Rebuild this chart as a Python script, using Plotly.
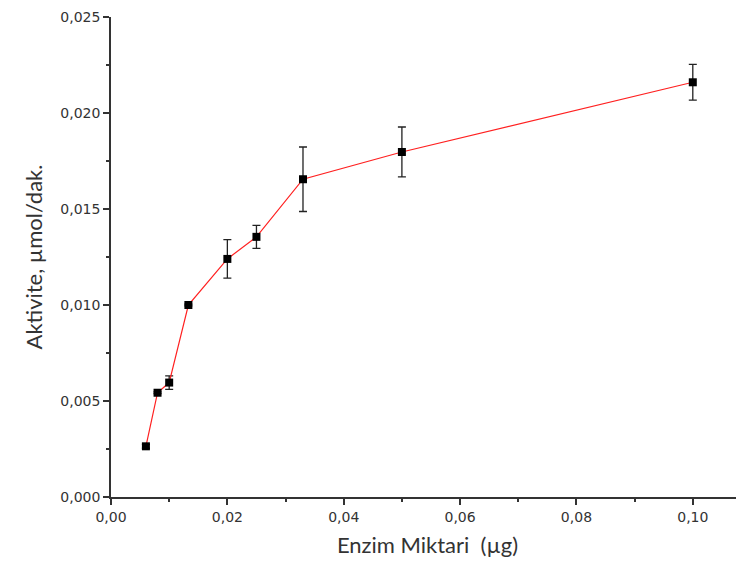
import plotly.graph_objects as go

enzim = [0.006, 0.008, 0.010, 0.0133, 0.020, 0.025, 0.033, 0.050, 0.100]
aktivite = [0.00264, 0.00543, 0.00596, 0.01000, 0.01240, 0.01355, 0.01655, 0.01797, 0.02160]
hata = [0.00010, 0.00005, 0.00035, 0.00005, 0.00100, 0.00060, 0.00168, 0.00130, 0.00093]

x_ticks = [0.00, 0.02, 0.04, 0.06, 0.08, 0.10]
y_ticks = [0.000, 0.005, 0.010, 0.015, 0.020, 0.025]

fig = go.Figure()
fig.add_trace(go.Scatter(
    x=enzim, y=aktivite, mode="lines+markers",
    line=dict(color="#ff2020", width=1.2),
    marker=dict(symbol="square", size=8, color="black"),
    error_y=dict(type="data", array=hata, visible=True, color="#222222", thickness=1.3, width=4),
    showlegend=False,
))

axis_font = dict(family="DejaVu Sans", size=14, color="#333333")
fig.update_layout(
    width=744, height=573,
    margin=dict(l=103, r=8, t=9, b=84),
    paper_bgcolor="white", plot_bgcolor="white",
    separators=",.",
    xaxis=dict(
        range=[0, 0.1088], tickvals=x_ticks, tickformat=".2f",
        showgrid=False, zeroline=False, showline=True, linecolor="#333333", linewidth=1.5,
        ticks="outside", ticklen=6, tickwidth=1.5, tickcolor="#333333",
        minor=dict(dtick=0.01, ticks="outside", ticklen=3, tickwidth=1.5, tickcolor="#333333", showgrid=False),
        tickfont=axis_font, ticklabeloverflow="allow", automargin=False,
        title=dict(text="Enzim Miktari  (µg)", font=dict(family="Lato", size=22, color="#333333"), standoff=14),
    ),
    yaxis=dict(
        range=[0, 0.025], tickvals=y_ticks, tickformat=".3f",
        showgrid=False, zeroline=False, showline=True, linecolor="#333333", linewidth=1.5,
        ticks="outside", ticklen=6, tickwidth=1.5, tickcolor="#333333",
        minor=dict(dtick=0.0025, ticks="outside", ticklen=3, tickwidth=1.5, tickcolor="#333333", showgrid=False),
        tickfont=axis_font, ticklabeloverflow="allow", automargin=False,
        title=dict(text="Aktivite, µmol/dak.", font=dict(family="Lato", size=22, color="#333333"), standoff=12),
    ),
)

fig.write_html("out.html")
